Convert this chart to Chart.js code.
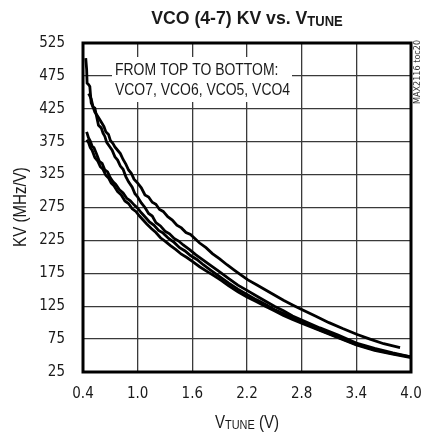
<!DOCTYPE html>
<html>
<head>
<meta charset="utf-8">
<script src="https://cdn.jsdelivr.net/npm/chart.js@4/dist/chart.umd.min.js"></script>
<style>
  html, body { margin: 0; padding: 0; background: #fff; }
  canvas { display: block; }
</style>
</head>
<body>
<canvas id="chart" width="422" height="436"></canvas>
<script>
// tick values
const xTicks = [0.4, 1.0, 1.6, 2.2, 2.8, 3.4, 4.0];
const yTicks = [25, 75, 125, 175, 225, 275, 325, 375, 425, 475, 525];

// VCO7 (top)
const vco7V = [0.43, 0.44, 0.445, 0.46, 0.475, 0.48, 0.49, 0.51, 0.53, 0.56, 0.60, 0.63, 0.65, 0.68, 0.70, 0.73, 0.75, 0.78, 0.81, 0.84, 0.87, 0.90, 0.93, 0.96, 1.00, 1.04, 1.08, 1.12, 1.16, 1.20, 1.24, 1.28, 1.33, 1.38, 1.43, 1.48, 1.53, 1.58, 1.61, 1.68, 1.75, 1.82, 1.90, 1.98, 2.06, 2.14, 2.21, 2.30, 2.40, 2.50, 2.60, 2.70, 2.80, 2.95, 3.10, 3.25, 3.41, 3.55, 3.70, 3.88];
const vco7Kv = [502, 485, 464, 462, 459, 450, 434, 428, 420, 414, 405, 398, 390, 386, 377, 372, 367, 362, 357, 348, 341, 332, 327, 318, 312, 305, 294, 291, 283, 280, 272, 269, 261, 256, 248, 244, 237, 234, 230, 221, 214, 205, 197, 188, 180, 172, 165, 158, 150, 142, 134, 127, 120, 110, 100, 91, 82, 75, 68, 62];

// VCO6
const vco6V = [0.46, 0.47, 0.49, 0.51, 0.53, 0.55, 0.57, 0.60, 0.62, 0.64, 0.66, 0.69, 0.72, 0.75, 0.78, 0.81, 0.84, 0.87, 0.90, 0.94, 0.97, 1.00, 1.04, 1.08, 1.12, 1.16, 1.20, 1.25, 1.30, 1.35, 1.40, 1.45, 1.50, 1.57, 1.64, 1.72, 1.80, 1.90, 2.00, 2.10, 2.20, 2.30, 2.40, 2.50, 2.60, 2.70, 2.80, 3.00, 3.20, 3.40, 3.60, 3.80, 4.00];
const vco6Kv = [448, 446, 440, 428, 426, 413, 400, 396, 388, 383, 374, 368, 362, 352, 347, 338, 333, 322, 314, 306, 296, 291, 282, 275, 266, 262, 252, 247, 239, 235, 228, 224, 218, 211, 203, 195, 187, 177, 167, 157, 149, 141, 133, 125, 118, 110, 104, 92, 81, 69, 61, 54, 48];

// VCO5
const vco5V = [0.44, 0.46, 0.48, 0.50, 0.52, 0.55, 0.58, 0.61, 0.64, 0.67, 0.70, 0.73, 0.76, 0.80, 0.84, 0.88, 0.92, 0.96, 1.00, 1.04, 1.08, 1.13, 1.18, 1.23, 1.28, 1.34, 1.40, 1.46, 1.52, 1.58, 1.65, 1.72, 1.80, 1.90, 2.00, 2.10, 2.20, 2.30, 2.40, 2.50, 2.60, 2.70, 2.80, 3.00, 3.20, 3.40, 3.60, 3.80, 4.00];
const vco5Kv = [390, 381, 376, 368, 366, 356, 345, 342, 332, 329, 320, 314, 310, 302, 297, 289, 285, 279, 274, 267, 261, 253, 248, 240, 236, 228, 222, 214, 209, 202, 196, 188, 180, 170, 160, 151, 143, 135, 128, 120, 114, 107, 101, 89, 78, 67, 59, 53, 48];

// VCO4 (bottom)
const vco4V = [0.44, 0.46, 0.48, 0.50, 0.53, 0.56, 0.59, 0.62, 0.65, 0.68, 0.71, 0.74, 0.78, 0.82, 0.86, 0.90, 0.94, 0.98, 1.02, 1.06, 1.10, 1.15, 1.20, 1.25, 1.30, 1.36, 1.42, 1.48, 1.54, 1.60, 1.68, 1.76, 1.84, 1.92, 2.00, 2.10, 2.20, 2.30, 2.40, 2.50, 2.60, 2.70, 2.80, 3.00, 3.20, 3.40, 3.60, 3.80, 4.00];
const vco4Kv = [378, 374, 366, 362, 351, 346, 337, 333, 324, 320, 312, 308, 299, 294, 285, 281, 273, 269, 262, 256, 250, 243, 237, 229, 224, 217, 211, 204, 199, 193, 185, 178, 171, 164, 156, 147, 139, 132, 125, 118, 111, 105, 99, 88, 77, 66, 58, 52, 47];

const seriesNames = ['VCO7', 'VCO6', 'VCO5', 'VCO4'];
const noteLines = ['FROM TOP TO BOTTOM:', 'VCO7, VCO6, VCO5, VCO4'];

const COND = "'DejaVu Sans Condensed', 'Liberation Sans', sans-serif";
const SANS = "'Liberation Sans', Arial, sans-serif";
const INK = '#1a1a1a';

function pairs(xs, ys) {
    return xs.map((x, i) => ({ x: x, y: ys[i] }));
}

// draw text squeezed horizontally (there is no narrow face installed)
function narrowText(ctx, text, x, y, squeeze) {
    ctx.save();
    ctx.translate(x, y);
    ctx.scale(squeeze, 1);
    ctx.fillText(text, 0, 0);
    ctx.restore();
}

const series = [[vco7V, vco7Kv], [vco6V, vco6Kv], [vco5V, vco5Kv], [vco4V, vco4Kv]];
const datasets = series.map((s, i) => ({
    label: seriesNames[i],
    data: pairs(s[0], s[1]),
    borderColor: '#000',
    borderWidth: 2.8,
    pointRadius: 0,
    tension: 0,
    fill: false
}));

// note box, frame and titles drawn on top of chart.js' own axes
const decor = {
    id: 'decor',
    beforeDatasetsDraw(chart) {
        const ctx = chart.ctx;
        ctx.save();
        ctx.fillStyle = '#fff';
        ctx.fillRect(112, 57, 180, 45);
        ctx.fillStyle = INK;
        ctx.font = '17px ' + SANS;
        ctx.textBaseline = 'alphabetic';
        ctx.textAlign = 'left';
        narrowText(ctx, noteLines[0], 115, 75, 0.82);
        narrowText(ctx, noteLines[1], 115, 95, 0.82);
        ctx.restore();
    },
    afterDatasetsDraw(chart) {
        const a = chart.chartArea;
        const ctx = chart.ctx;
        ctx.save();
        ctx.strokeStyle = '#000';
        ctx.lineWidth = 3;
        ctx.strokeRect(a.left, a.top, a.right - a.left, a.bottom - a.top);
        ctx.restore();
    },
    afterDraw(chart) {
        const ctx = chart.ctx;
        const sq = 0.84;
        ctx.save();
        ctx.fillStyle = INK;
        ctx.textBaseline = 'alphabetic';
        ctx.textAlign = 'left';

        // main title with subscript
        let big = 'bold 19px ' + SANS;
        let small = 'bold 14px ' + SANS;
        ctx.font = big;
        let w1 = ctx.measureText('VCO (4-7) KV vs. V').width * 0.93;
        ctx.font = small;
        let w2 = ctx.measureText('TUNE').width * 0.93;
        let x0 = 247 - (w1 + w2) / 2;
        ctx.font = big;
        narrowText(ctx, 'VCO (4-7) KV vs. V', x0, 24, 0.93);
        ctx.font = small;
        narrowText(ctx, 'TUNE', x0 + w1, 26, 0.93);

        // x axis title
        big = '18px ' + SANS;
        small = '13px ' + SANS;
        ctx.font = big;
        let a1 = ctx.measureText('V').width * sq;
        let a3 = ctx.measureText(' (V)').width * sq;
        ctx.font = small;
        let a2 = ctx.measureText('TUNE').width * sq;
        x0 = 247 - (a1 + a2 + a3) / 2;
        ctx.font = big;
        narrowText(ctx, 'V', x0, 428, sq);
        ctx.font = small;
        narrowText(ctx, 'TUNE', x0 + a1, 429, sq);
        ctx.font = big;
        narrowText(ctx, ' (V)', x0 + a1 + a2, 428, sq);

        // y axis title
        ctx.save();
        ctx.translate(26, 207);
        ctx.rotate(-Math.PI / 2);
        ctx.font = '18px ' + SANS;
        const wy = ctx.measureText('KV (MHz/V)').width * sq;
        narrowText(ctx, 'KV (MHz/V)', -wy / 2, 0, sq);
        ctx.restore();

        // figure code on the right edge
        ctx.save();
        ctx.translate(420, 104);
        ctx.rotate(-Math.PI / 2);
        ctx.font = '9px ' + COND;
        ctx.fillStyle = '#333';
        ctx.fillText('MAX2116 toc20', 0, 0);
        ctx.restore();

        ctx.restore();
    }
};

new Chart(document.getElementById('chart'), {
    type: 'line',
    data: { datasets: datasets },
    options: {
        responsive: false,
        animation: false,
        events: [],
        layout: { padding: { top: 43, right: 11, bottom: 0, left: 0 } },
        plugins: {
            legend: { display: false },
            title: { display: false },
            tooltip: { enabled: false }
        },
        scales: {
            x: {
                type: 'linear',
                min: 0.4,
                max: 4.0,
                afterBuildTicks: (scale) => { scale.ticks = xTicks.map(v => ({ value: v })); },
                afterFit: (scale) => {
                    scale.height = 64;
                    scale.paddingLeft = 0;
                    scale.paddingRight = 0;
                },
                grid: { color: '#3a3a3a', lineWidth: 1.3, drawTicks: false },
                border: { display: false },
                ticks: {
                    padding: 13,
                    color: INK,
                    font: { family: COND, size: 15 },
                    maxRotation: 0,
                    autoSkip: false,
                    callback: (v) => Number(v).toFixed(1)
                }
            },
            y: {
                type: 'linear',
                min: 25,
                max: 525,
                afterBuildTicks: (scale) => { scale.ticks = yTicks.map(v => ({ value: v })); },
                afterFit: (scale) => {
                    scale.width = 83;
                    scale.paddingTop = 0;
                    scale.paddingBottom = 0;
                },
                grid: { color: '#3a3a3a', lineWidth: 1.3, drawTicks: false },
                border: { display: false },
                ticks: {
                    padding: 18,
                    color: INK,
                    font: { family: COND, size: 15 },
                    autoSkip: false,
                    callback: (v) => String(v)
                }
            }
        }
    },
    plugins: [decor]
});
</script>
</body>
</html>
